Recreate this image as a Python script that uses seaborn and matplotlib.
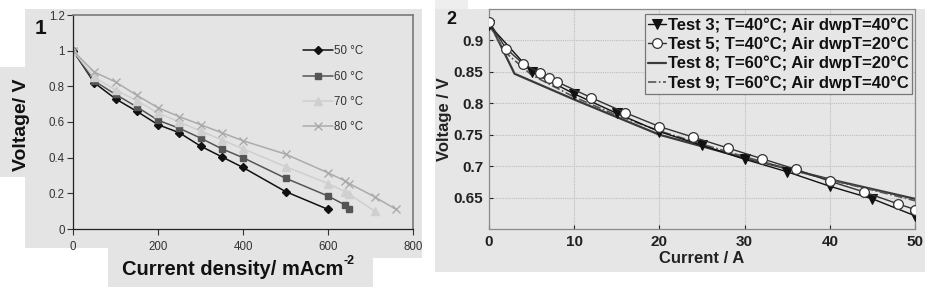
import matplotlib
matplotlib.use("Agg")
import matplotlib.pyplot as plt
from matplotlib.patches import Rectangle
import seaborn as sns
import pandas as pd

sns.set_theme(style="white")
plt.rcParams['font.family'] = ['Liberation Sans', 'DejaVu Sans']

# ---------- Panel 1 data ----------
p1_labels = ["50 °C", "60 °C", "70 °C", "80 °C"]
p1_x50 = [0, 50, 100, 150, 200, 250, 300, 350, 400, 500, 600]
p1_y50 = [1.0, 0.82, 0.73, 0.66, 0.585, 0.54, 0.465, 0.405, 0.345, 0.21, 0.11]
p1_x60 = [0, 50, 100, 150, 200, 250, 300, 350, 400, 500, 600, 640, 650]
p1_y60 = [1.0, 0.83, 0.755, 0.685, 0.61, 0.565, 0.51, 0.45, 0.40, 0.285, 0.185, 0.135, 0.11]
p1_x70 = [0, 50, 100, 150, 200, 250, 300, 350, 400, 500, 600, 640, 650, 710]
p1_y70 = [1.0, 0.85, 0.78, 0.72, 0.65, 0.60, 0.55, 0.50, 0.45, 0.35, 0.255, 0.21, 0.195, 0.10]
p1_x80 = [0, 50, 100, 150, 200, 250, 300, 350, 400, 500, 600, 640, 650, 710, 760]
p1_y80 = [1.0, 0.88, 0.825, 0.75, 0.68, 0.63, 0.585, 0.54, 0.495, 0.42, 0.315, 0.27, 0.255, 0.18, 0.11]
p1_xticks = [0, 200, 400, 600, 800]
p1_yticks = [0, 0.2, 0.4, 0.6, 0.8, 1, 1.2]
p1_yticklabels = ["0", "0.2", "0.4", "0.6", "0.8", "1", "1.2"]

# ---------- Panel 2 data ----------
p2_labels = ["Test 3; T=40°C; Air dwpT=40°C", "Test 5; T=40°C; Air dwpT=20°C",
             "Test 8; T=60°C; Air dwpT=20°C", "Test 9; T=60°C; Air dwpT=40°C"]
t3_x = [0, 5, 10, 15, 20, 25, 30, 35, 40, 45, 50]
t3_y = [0.925, 0.850, 0.815, 0.784, 0.755, 0.733, 0.711, 0.691, 0.668, 0.648, 0.621]
t5_x = [0, 2, 4, 6, 7, 8, 12, 16, 20, 24, 28, 32, 36, 40, 44, 48, 50]
t5_y = [0.930, 0.887, 0.863, 0.848, 0.840, 0.834, 0.809, 0.785, 0.763, 0.746, 0.729,
        0.712, 0.695, 0.676, 0.659, 0.640, 0.631]
t8_x = [0, 3, 10, 20, 30, 40, 50]
t8_y = [0.930, 0.847, 0.806, 0.750, 0.713, 0.679, 0.648]
t9_x = [0, 2, 5, 10, 15, 20, 25, 30, 35, 40, 45, 50]
t9_y = [0.925, 0.880, 0.845, 0.810, 0.781, 0.756, 0.735, 0.715, 0.696, 0.678, 0.662, 0.645]
p2_xticks = [0, 10, 20, 30, 40, 50]
p2_yticks = [0.65, 0.7, 0.75, 0.8, 0.85, 0.9]
p2_yticklabels = ["0.65", "0.7", "0.75", "0.8", "0.85", "0.9"]

W, H = 925, 287
fig = plt.figure(figsize=(W / 100, H / 100), dpi=100)
fig.patch.set_facecolor("white")

BG = "#e4e4e4"

def prect(x0, y0, x1, y1, color):
    fig.patches.append(Rectangle((x0 / W, 1 - y1 / H), (x1 - x0) / W, (y1 - y0) / H,
                                 transform=fig.transFigure, facecolor=color,
                                 edgecolor="none", zorder=-10))

# background patches (panel 1)
prect(25, 9, 422, 248, BG)
prect(108, 248, 373, 287, BG)
prect(373, 248, 422, 258, BG)
prect(0, 67, 25, 177, BG)
# panel 2
prect(435, 9, 925, 272, "#e6e6e6")
prect(435, 0, 468, 9, "#eeeeee")

def axes_px(l, t, r, b):
    return fig.add_axes([l / W, 1 - b / H, (r - l) / W, (b - t) / H])

# ---------- Panel 1 ----------
ax1 = axes_px(73, 15, 413, 229)
ax1.set_facecolor(BG)
s1 = [(p1_x50, p1_y50, "#111111", "D", 4.0),
      (p1_x60, p1_y60, "#555555", "s", 5.0),
      (p1_x70, p1_y70, "#cfcfcf", "^", 5.5),
      (p1_x80, p1_y80, "#ababab", "x", 6.0)]
for (xs, ys, c, m, ms), lab in zip(s1, p1_labels):
    df = pd.DataFrame({"x": xs, "y": ys})
    sns.lineplot(data=df, x="x", y="y", ax=ax1, color=c, marker=m, markersize=ms,
                 markeredgecolor=c, markerfacecolor=c, linewidth=1.1, label=lab,
                 sort=False, markeredgewidth=1.0)
ax1.set_xlim(0, 800)
ax1.set_ylim(0, 1.2)
ax1.set_xticks(p1_xticks)
ax1.set_xticklabels([str(v) for v in p1_xticks])
ax1.set_yticks(p1_yticks)
ax1.set_yticklabels(p1_yticklabels)
ax1.tick_params(axis="both", labelsize=8.3, colors="#333333", length=4, width=0.8,
                direction="out", pad=2)
ax1.tick_params(axis="x", pad=5)
ax1.tick_params(axis="both", which="both", bottom=True, left=True)
for sp in ["left", "bottom"]:
    ax1.spines[sp].set_color("#222222")
    ax1.spines[sp].set_linewidth(0.9)
for sp in ["top", "right"]:
    ax1.spines[sp].set_color("#7a7a7a")
    ax1.spines[sp].set_linewidth(1.2)
ax1.set_xlabel("")
ax1.set_ylabel("")
leg1 = ax1.legend(loc="upper left", bbox_to_anchor=(0.66, 0.885), frameon=False,
                  fontsize=8.3, handlelength=2.6, labelspacing=1.15, handletextpad=0.1,
                  borderpad=0)
for t in leg1.get_texts():
    t.set_color("#333333")

fig.text(40 / W, 1 - 29 / H, "1", fontsize=15, fontweight="bold", ha="center",
         va="center", color="#111111")
fig.text(22 / W, 1 - 125 / H, "Voltage/ V", fontsize=14, fontweight="bold",
         rotation=90, ha="center", va="center", color="#111111")
fig.text(343 / W, 1 - 275 / H, "Current density/ mAcm", fontsize=14.5,
         fontweight="bold", ha="right", va="baseline", color="#111111")
fig.text(344 / W, 1 - 264 / H, "-2", fontsize=9, fontweight="bold", ha="left",
         va="baseline", color="#111111")

# ---------- Panel 2 ----------
ax2 = axes_px(489, 9, 915, 229)
ax2.set_facecolor("#e6e6e6")
d3 = pd.DataFrame({"x": t3_x, "y": t3_y})
d5 = pd.DataFrame({"x": t5_x, "y": t5_y})
d8 = pd.DataFrame({"x": t8_x, "y": t8_y})
d9 = pd.DataFrame({"x": t9_x, "y": t9_y})
sns.lineplot(data=d8, x="x", y="y", ax=ax2, color="#3a3a3a", linewidth=1.6,
             label=p2_labels[2], sort=False, zorder=3)
sns.lineplot(data=d9, x="x", y="y", ax=ax2, color="#555555", linewidth=1.2,
             linestyle=(0, (5, 1.5, 1, 1.5)), label=p2_labels[3], sort=False, zorder=3)
sns.lineplot(data=d3, x="x", y="y", ax=ax2, color="#111111", linewidth=1.0, marker="v",
             markersize=7.5, markerfacecolor="#111111", markeredgecolor="#111111",
             label=p2_labels[0], sort=False, zorder=4)
sns.lineplot(data=d5, x="x", y="y", ax=ax2, color="#333333", linewidth=1.0, marker="o",
             markersize=7, markerfacecolor="white", markeredgecolor="#333333",
             markeredgewidth=0.9, label=p2_labels[1], sort=False, zorder=5)
ax2.set_xlim(0, 50)
ax2.set_ylim(0.6, 0.95)
ax2.set_xticks(p2_xticks)
ax2.set_xticklabels([str(v) for v in p2_xticks])
ax2.set_yticks(p2_yticks)
ax2.set_yticklabels(p2_yticklabels)
ax2.grid(True, linestyle=(0, (1, 1)), color="#bdbdbd", linewidth=0.8)
ax2.tick_params(axis="both", labelsize=11, colors="#222222", length=3, width=0.8,
                direction="in", pad=4)
ax2.tick_params(axis="both", which="both", bottom=True, left=True)
for lab in ax2.get_xticklabels() + ax2.get_yticklabels():
    lab.set_fontweight("bold")
for sp in ax2.spines.values():
    sp.set_color("#8a8a8a")
    sp.set_linewidth(0.9)
ax2.set_xlabel("Current / A", fontsize=12, fontweight="bold", color="#222222", labelpad=2)
ax2.set_ylabel("Voltage / V", fontsize=12, fontweight="bold", color="#222222", labelpad=2)
ax2.yaxis.set_label_coords(-0.088, 0.5)
h, l = ax2.get_legend_handles_labels()
order = [l.index(s) for s in p2_labels]
leg2 = ax2.legend([h[i] for i in order], [l[i] for i in order], loc="upper right",
                  bbox_to_anchor=(0.993, 0.977), fontsize=12, frameon=True, fancybox=False,
                  handlelength=1.1, handletextpad=0.1, labelspacing=0.22, borderpad=0.2,
                  borderaxespad=0)
leg2.get_frame().set_edgecolor("#777777")
leg2.get_frame().set_facecolor("#e6e6e6")
leg2.get_frame().set_alpha(1)
leg2.get_frame().set_linewidth(0.9)
for tx in leg2.get_texts():
    tx.set_fontweight("bold")
    tx.set_color("#111111")

fig.text(451 / W, 1 - 20 / H, "2", fontsize=13, fontweight="bold", ha="center",
         va="center", color="#111111")

fig.savefig("out.png", dpi=100)
